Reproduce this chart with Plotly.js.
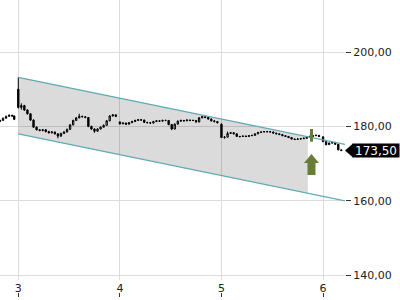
<!DOCTYPE html>
<html>
<head>
<meta charset="utf-8">
<script src="https://cdn.plot.ly/plotly-3.0.1.min.js"></script>
<style>html,body{margin:0;padding:0;background:#fff}#chart{width:400px;height:300px}</style>
</head>
<body>
<div id="chart"></div>
<script>
// ---- candle data (time in days, OHLC) ----
var times = [2.82,2.85,2.88,2.91,2.94,2.96,
 3.00,3.03,3.06,3.09,3.12,3.15,3.18,3.21,3.24,3.27,3.30,3.33,3.36,3.39,3.42,3.45,3.48,3.51,3.54,3.57,3.60,3.63,3.66,3.69,3.72,3.75,3.78,3.81,3.84,3.87,3.90,3.93,3.96,
 4.00,4.03,4.06,4.09,4.12,4.15,4.18,4.21,4.24,4.27,4.30,4.33,4.36,4.39,4.42,4.45,4.48,4.51,4.54,4.57,4.60,4.63,4.66,4.69,4.72,4.75,4.78,4.81,4.84,4.87,4.90,4.93,4.96,
 5.00,5.03,5.06,5.09,5.12,5.15,5.18,5.21,5.24,5.27,5.30,5.33,5.36,5.39,5.42,5.45,5.48,5.51,5.54,5.57,5.60,5.63,5.66,5.69,5.72,5.75,5.78,5.81,5.84,5.87,5.90,5.93,5.96,
 6.00,6.03,6.06,6.09,6.12,6.15,6.18];
var opens = [181.3,181.6,182.2,182.7,183.0,182.8,
 190.0,185.1,185.6,184.4,183.4,181.7,179.8,179.1,178.9,179.1,178.6,178.3,178.5,178.0,177.4,178.1,178.5,179.2,180.4,181.6,182.3,182.7,182.6,182.4,180.0,179.3,178.7,179.3,179.8,180.3,181.5,182.8,183.1,
 181.2,180.7,180.9,180.6,181.0,181.3,181.6,181.8,181.7,181.1,181.0,180.9,181.3,181.5,181.4,181.6,181.6,180.5,179.3,180.6,181.4,181.6,181.5,181.7,181.6,181.6,181.2,182.3,182.6,182.4,182.0,181.5,181.3,
 180.6,177.0,177.1,178.1,178.3,178.0,177.2,177.3,177.4,177.3,177.5,177.6,178.0,178.4,178.5,178.5,178.6,178.5,178.2,178.0,177.8,177.5,177.3,177.0,176.6,176.5,176.6,176.7,176.8,177.1,177.3,177.5,177.6,
 177.2,175.9,175.1,175.5,175.7,175.2,173.7];
var highs = [181.8,182.4,182.9,183.2,183.1,182.9,
 193.2,186.2,185.8,184.6,183.6,181.9,180.0,179.3,179.3,179.2,178.8,178.7,178.6,178.1,178.3,178.7,179.4,180.6,181.8,182.5,183.4,182.9,182.7,182.5,180.2,179.5,179.5,180.0,180.5,181.7,183.0,183.3,183.2,
 181.3,181.1,181.0,181.2,181.5,181.8,182.0,181.9,181.8,181.2,181.1,181.5,181.7,181.6,181.8,181.8,181.7,180.6,180.8,181.6,181.8,181.7,181.9,181.8,181.8,181.7,182.5,182.8,182.7,182.5,182.1,181.6,181.4,
 180.8,177.4,178.6,178.5,178.4,178.1,177.4,177.5,177.5,177.6,177.7,178.1,178.5,178.6,178.7,178.8,178.7,178.6,178.3,178.1,177.9,177.6,177.4,177.1,176.7,176.8,176.9,177.0,177.3,177.5,177.7,177.8,177.7,
 177.3,176.0,175.7,175.9,175.8,175.3,173.8];
var lows = [181.2,181.5,182.1,182.6,182.6,181.7,
 184.8,184.5,184.2,183.2,181.5,179.6,178.9,178.7,178.7,178.4,178.1,178.1,177.8,176.8,177.2,178.0,178.4,179.1,180.3,181.5,182.2,182.4,182.2,179.8,179.1,178.3,178.6,179.2,179.7,180.2,181.4,182.7,182.5,
 180.5,180.6,180.4,180.5,180.9,181.2,181.5,181.5,180.9,180.8,180.7,180.8,181.2,181.2,181.3,181.4,180.3,179.0,179.2,180.5,181.3,181.3,181.4,181.4,181.5,181.0,181.1,182.2,182.2,181.8,181.3,181.1,180.8,
 176.9,176.7,177.0,178.0,177.9,177.2,177.1,177.2,177.2,177.2,177.4,177.5,177.9,178.3,178.4,178.5,178.4,178.1,177.9,177.7,177.4,177.2,176.9,176.5,176.3,176.4,176.5,176.6,176.7,177.0,177.2,177.4,177.2,
 175.8,174.9,175.0,175.4,175.0,173.6,173.4];
var closes = [181.6,182.2,182.7,183.0,182.8,181.9,
 185.1,185.6,184.4,183.4,181.7,179.8,179.1,178.9,179.1,178.6,178.3,178.5,178.0,177.4,178.1,178.5,179.2,180.4,181.6,182.3,182.7,182.6,182.4,180.0,179.3,178.7,179.3,179.8,180.3,181.5,182.8,183.1,182.7,
 180.7,180.9,180.6,181.0,181.3,181.6,181.8,181.7,181.1,181.0,180.9,181.3,181.5,181.4,181.6,181.6,180.5,179.3,180.6,181.4,181.6,181.5,181.7,181.6,181.6,181.2,182.3,182.6,182.4,182.0,181.5,181.3,181.0,
 177.0,177.1,178.1,178.3,178.0,177.3,177.3,177.4,177.3,177.5,177.6,178.0,178.4,178.5,178.6,178.6,178.5,178.2,178.0,177.8,177.5,177.3,177.0,176.6,176.5,176.6,176.7,176.8,177.1,177.3,177.5,177.6,177.3,
 175.9,175.1,175.5,175.7,175.2,173.7,173.5];

// ---- trend channel ----
var channelX = [3.00, 6.25];
var channelTop = [193.2, 175.0];
var channelBottom = [178.0, 159.8];
var channelFillEndX = 5.85;

// ---- signal ----
var signalX = [5.886];
var signalCandleLow = [175.9];
var signalCandleHigh = [179.3];
var signalArrowY = [172.6];

// ---- axes ----
var xTickVals = [3, 4, 5, 6];
var xTickText = ['3', '4', '5', '6'];
var yTickVals = [140, 160, 180, 200];

var lastPrice = closes[closes.length - 1];

function lineAt(xs, ys, x) {
  return ys[0] + (ys[1] - ys[0]) * (x - xs[0]) / (xs[1] - xs[0]);
}
var fillX = [channelX[0], channelFillEndX, channelFillEndX, channelX[0]];
var fillY = [channelTop[0], lineAt(channelX, channelTop, channelFillEndX),
             lineAt(channelX, channelBottom, channelFillEndX), channelBottom[0]];

var teal = '#5fa9b3';
var green = '#6a7d37';

var traces = [
  {type:'scatter', x:fillX, y:fillY, fill:'toself', fillcolor:'rgba(0,0,0,0.14)',
   line:{width:0}, mode:'lines', hoverinfo:'skip', showlegend:false},
  {type:'scatter', x:channelX, y:channelTop, mode:'lines', line:{color:teal, width:1.2}, showlegend:false},
  {type:'scatter', x:channelX, y:channelBottom, mode:'lines', line:{color:teal, width:1.2}, showlegend:false},
  {type:'candlestick', x:times, open:opens, high:highs, low:lows, close:closes,
   increasing:{line:{color:'#000', width:1}, fillcolor:'#ffffff'},
   decreasing:{line:{color:'#000', width:1}, fillcolor:'#000000'},
   whiskerwidth:0, showlegend:false},
  {type:'scatter', x:[signalX[0], signalX[0]], y:[signalCandleLow[0], signalCandleHigh[0]],
   mode:'lines', line:{color:green, width:3}, showlegend:false},
  {type:'scatter', x:channelX, y:channelTop, xaxis:'x2', mode:'lines',
   line:{width:0}, opacity:0, hoverinfo:'skip', showlegend:false}
];

var fontFam = 'DejaVu Sans, sans-serif';
var layout = {
  width:400, height:300,
  margin:{l:0, r:55, t:0, b:0},
  paper_bgcolor:'#fff', plot_bgcolor:'#fff',
  separators:',.',
  showlegend:false,
  boxgap:0.05,
  xaxis:{range:[2.82, 6.216], domain:[0,1], tickvals:xTickVals, ticktext:xTickText,
    showgrid:true, gridcolor:'#dcdcdc', gridwidth:1, zeroline:false, showline:false,
    ticks:'', tickfont:{family:fontFam, size:11, color:'#222'},
    rangeslider:{visible:false}, fixedrange:true},
  xaxis2:{range:[2.82, 6.216], overlaying:'x', anchor:'free', position:0.01,
    tickvals:xTickVals, showticklabels:false, ticks:'inside', ticklen:4, tickcolor:'#333',
    showgrid:false, zeroline:false, showline:false},
  yaxis:{range:[138.71, 213.98], domain:[20/300, 1], side:'right', tickvals:yTickVals,
    tickformat:'.2f', showgrid:true, gridcolor:'#dcdcdc', gridwidth:1, zeroline:false,
    showline:false, ticks:'outside', ticklen:5, tickcolor:'#333',
    tickfont:{family:fontFam, size:11, color:'#222'}, fixedrange:true},
  shapes:[
    {type:'path', xref:'x', yref:'y', xsizemode:'pixel', ysizemode:'pixel',
     xanchor:signalX[0], yanchor:signalArrowY[0],
     path:'M0,0 L7.5,-9 L4,-9 L4,-21 L-4,-21 L-4,-9 L-7.5,-9 Z',
     fillcolor:green, line:{width:0}},
    {type:'path', xref:'paper', yref:'y', xsizemode:'pixel', ysizemode:'pixel',
     xanchor:1, yanchor:lastPrice,
     path:'M0,0 L8,7 L8,-7 Z', fillcolor:'#000', line:{width:0}}
  ],
  annotations:[
    {xref:'paper', yref:'y', x:1, y:lastPrice, xanchor:'left', yanchor:'middle',
     xshift:7, text:lastPrice.toFixed(2).replace('.', ','), showarrow:false,
     bgcolor:'#000', font:{family:fontFam, size:12, color:'#fff'},
     width:46, height:13, borderpad:0}
  ]
};

Plotly.newPlot('chart', traces, layout, {staticPlot:true, displayModeBar:false});
</script>
</body>
</html>
